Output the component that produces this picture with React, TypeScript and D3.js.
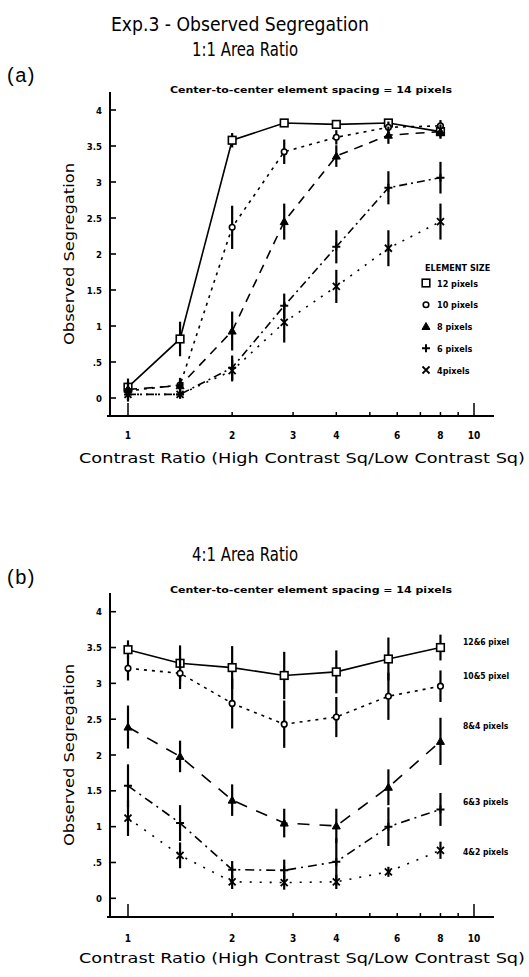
import React from "react";
import * as d3 from "d3";

// x positions of the contrast ratios
const contrastRatios = [1, 1.414, 2, 2.828, 4, 5.657, 8];
const xTickValues = [1, 2, 3, 4, 5, 6, 7, 8, 9, 10];
const xTickLabels = ["1", "2", "3", "4", "", "6", "", "8", "", "10"];
const yTickValues = [0, 0.5, 1, 1.5, 2, 2.5, 3, 3.5, 4];
const yTickLabels = ["0", ".5", "1", "1.5", "2", "2.5", "3", "3.5", "4"];

// Panel (a): 1:1 area ratio
const seriesNamesA = ["12 pixels", "10 pixels", "8 pixels", "6 pixels", "4pixels"];
const a12 = [0.15, 0.82, 3.58, 3.82, 3.8, 3.82, 3.7];
const a12err = [0.12, 0.24, 0.1, 0.03, 0.03, 0.05, 0.08];
const a10 = [0.1, 0.18, 2.37, 3.42, 3.62, 3.76, 3.78];
const a10err = [0.1, 0.1, 0.3, 0.17, 0.1, 0.08, 0.08];
const a8 = [0.12, 0.17, 0.93, 2.45, 3.36, 3.65, 3.7];
const a8err = [0.1, 0.1, 0.27, 0.25, 0.15, 0.12, 0.1];
const a6 = [0.05, 0.05, 0.42, 1.28, 2.1, 2.92, 3.06];
const a6err = [0.1, 0.06, 0.17, 0.17, 0.23, 0.23, 0.22];
const a4 = [0.05, 0.05, 0.38, 1.05, 1.55, 2.08, 2.45];
const a4err = [0.08, 0.05, 0.15, 0.28, 0.23, 0.25, 0.25];

// Panel (b): 4:1 area ratio
const seriesNamesB = ["12&6 pixel", "10&5 pixel", "8&4 pixels", "6&3 pixels", "4&2 pixels"];
const b12 = [3.47, 3.28, 3.22, 3.11, 3.16, 3.34, 3.5];
const b12err = [0.13, 0.25, 0.3, 0.33, 0.3, 0.3, 0.18];
const b10 = [3.21, 3.14, 2.72, 2.43, 2.53, 2.82, 2.96];
const b10err = [0.17, 0.22, 0.35, 0.33, 0.28, 0.33, 0.22];
const b8 = [2.39, 1.98, 1.37, 1.05, 1.01, 1.55, 2.19];
const b8err = [0.3, 0.22, 0.22, 0.2, 0.24, 0.25, 0.33];
const b6 = [1.57, 1.05, 0.4, 0.39, 0.51, 1.0, 1.24];
const b6err = [0.3, 0.25, 0.12, 0.15, 0.33, 0.27, 0.23];
const b4 = [1.12, 0.6, 0.23, 0.22, 0.23, 0.37, 0.67];
const b4err = [0.25, 0.18, 0.1, 0.1, 0.1, 0.07, 0.12];

const markers = ["square", "circle", "triangle", "plus", "cross"];
const dashesA = ["", "3,5", "9,7", "8,4,2,4", "2,7"];
const dashesB = ["", "3,5", "12,10", "9,5,2,5", "2,8"];

const TITLE_FONT = "'DejaVu Sans', sans-serif";
const SMALL_FONT = "'DejaVu Sans Condensed', 'DejaVu Sans', sans-serif";

function Marker({ type, x, y }: { type: string; x: number; y: number }) {
  const s = 3.8;
  if (type === "square")
    return <rect x={x - s} y={y - s} width={2 * s} height={2 * s} fill="white" stroke="black" strokeWidth={1.6} />;
  if (type === "circle") return <circle cx={x} cy={y} r={2.8} fill="white" stroke="black" strokeWidth={1.6} />;
  if (type === "triangle")
    return (
      <path d={`M${x},${y - 4}L${x + 4},${y + 3}L${x - 4},${y + 3}Z`} fill="black" stroke="black" strokeWidth={1} />
    );
  if (type === "plus")
    return <path d={`M${x - 4},${y}H${x + 4}M${x},${y - 4}V${y + 4}`} stroke="black" strokeWidth={2} />;
  return <path d={`M${x - 3.5},${y - 3.5}L${x + 3.5},${y + 3.5}M${x + 3.5},${y - 3.5}L${x - 3.5},${y + 3.5}`} stroke="black" strokeWidth={1.8} />;
}

type PanelProps = {
  y0: number; // pixel of value 0
  y4: number; // pixel of value 4
  axisY: number;
  axisTop: number;
  series: number[][];
  errs: number[][];
  dashes: string[];
  spacingText: string;
  spacingY: number;
  tickLabelY: number;
  xTitleY: number;
  yTitleX: number;
};

function Panel(p: PanelProps) {
  const x = d3.scaleLog().domain([1, 10]).range([128, 474]);
  const y = d3.scaleLinear().domain([0, 4]).range([p.y0, p.y4]);
  const line = d3
    .line<number>()
    .x((_, i) => x(contrastRatios[i]))
    .y((d) => y(d));
  const axisX = 110;
  return (
    <g>
      {/* y axis */}
      <line x1={axisX} x2={axisX} y1={p.axisTop} y2={p.axisY} stroke="black" strokeWidth={2} />
      {yTickValues.map((v, i) => (
        <g key={"yt" + i}>
          <line x1={axisX} x2={axisX + 6} y1={y(v)} y2={y(v)} stroke="black" strokeWidth={1.6} />
          <text x={102} y={y(v) + 3.5} textAnchor="end" fontFamily={SMALL_FONT} fontWeight="bold" fontSize={9.5}>
            {yTickLabels[i]}
          </text>
        </g>
      ))}
      {/* x axis */}
      <line x1={107} x2={494} y1={p.axisY} y2={p.axisY} stroke="black" strokeWidth={1.8} />
      {xTickValues.map((v, i) => {
        const major = v === 1 || v === 10;
        return (
          <g key={"xt" + i}>
            <line x1={x(v)} x2={x(v)} y1={p.axisY} y2={p.axisY - (major ? 13 : 4)} stroke="black" strokeWidth={1.5} />
            {xTickLabels[i] && (
              <text x={x(v)} y={p.tickLabelY} textAnchor="middle" fontFamily={SMALL_FONT} fontWeight="bold" fontSize={10}>
                {xTickLabels[i]}
              </text>
            )}
          </g>
        );
      })}
      <text
        x={302}
        y={p.xTitleY}
        textAnchor="middle"
        fontFamily={TITLE_FONT}
        fontSize={14}
        textLength={446}
        lengthAdjust="spacingAndGlyphs"
      >
        Contrast Ratio (High Contrast Sq/Low Contrast Sq)
      </text>
      <text
        transform={`translate(${p.yTitleX},${(p.y0 + p.y4) / 2}) rotate(-90)`}
        textAnchor="middle"
        fontFamily={TITLE_FONT}
        fontSize={14}
        textLength={182}
        lengthAdjust="spacingAndGlyphs"
      >
        Observed Segregation
      </text>
      <text
        x={311}
        y={p.spacingY}
        textAnchor="middle"
        fontFamily={SMALL_FONT}
        fontWeight="bold"
        fontSize={8}
        textLength={282}
        lengthAdjust="spacingAndGlyphs"
      >
        {p.spacingText}
      </text>
      {/* series */}
      {p.series.map((s, si) => (
        <g key={"s" + si}>
          <path d={line(s) || ""} fill="none" stroke="black" strokeWidth={1.6} strokeDasharray={p.dashes[si]} />
          {s.map((v, i) => (
            <line
              key={"e" + i}
              x1={x(contrastRatios[i])}
              x2={x(contrastRatios[i])}
              y1={y(v - p.errs[si][i])}
              y2={y(v + p.errs[si][i])}
              stroke="black"
              strokeWidth={2.2}
            />
          ))}
          {s.map((v, i) => (
            <Marker key={"m" + i} type={markers[si]} x={x(contrastRatios[i])} y={y(v)} />
          ))}
        </g>
      ))}
    </g>
  );
}

export default function App() {
  const seriesA = [a12, a10, a8, a6, a4];
  const errsA = [a12err, a10err, a8err, a6err, a4err];
  const seriesB = [b12, b10, b8, b6, b4];
  const errsB = [b12err, b10err, b8err, b6err, b4err];
  const legendY = d3.scaleLinear().domain([0, 4]).range([283, 370]);
  const yB = d3.scaleLinear().domain([0, 4]).range([898.3, 611.7]);
  const labelBValues = [3.58, 3.1, 2.4, 1.35, 0.65];
  return (
    <svg width={529} height={977} style={{ position: "absolute", left: 0, top: 0, background: "white" }}>
      <rect width={529} height={977} fill="white" />
      <text x={240} y={31} textAnchor="middle" fontFamily={TITLE_FONT} fontSize={19} textLength={258} lengthAdjust="spacingAndGlyphs">
        Exp.3 - Observed Segregation
      </text>
      <text x={245} y={56} textAnchor="middle" fontFamily={TITLE_FONT} fontSize={19} textLength={106} lengthAdjust="spacingAndGlyphs">
        1:1 Area Ratio
      </text>
      <text x={7} y={82} fontFamily="'Liberation Sans', sans-serif" fontSize={20} letterSpacing={1.5}>
        (a)
      </text>
      <Panel
        y0={398}
        y4={110}
        axisY={416}
        axisTop={92}
        series={seriesA}
        errs={errsA}
        dashes={dashesA}
        spacingText="Center-to-center element spacing = 14 pixels"
        spacingY={93}
        tickLabelY={439}
        xTitleY={463}
        yTitleX={74}
      />
      {/* legend (a) */}
      <text x={425} y={271} fontFamily={SMALL_FONT} fontWeight="bold" fontSize={9}>
        ELEMENT SIZE
      </text>
      {seriesNamesA.map((n, i) => (
        <g key={"lg" + i}>
          <Marker type={markers[i]} x={426} y={legendY(i)} />
          <text x={437} y={legendY(i) + 3.5} fontFamily={SMALL_FONT} fontWeight="bold" fontSize={9}>
            {n}
          </text>
        </g>
      ))}
      <text x={245} y={561} textAnchor="middle" fontFamily={TITLE_FONT} fontSize={19} textLength={106} lengthAdjust="spacingAndGlyphs">
        4:1 Area Ratio
      </text>
      <text x={7} y={584} fontFamily="'Liberation Sans', sans-serif" fontSize={20} letterSpacing={1.5}>
        (b)
      </text>
      <Panel
        y0={898.3}
        y4={611.7}
        axisY={917}
        axisTop={593}
        series={seriesB}
        errs={errsB}
        dashes={dashesB}
        spacingText="Center-to-center element spacing = 14 pixels"
        spacingY={593}
        tickLabelY={942}
        xTitleY={963}
        yTitleX={74}
      />
      {seriesNamesB.map((n, i) => (
        <text key={"lb" + i} x={463} y={yB(labelBValues[i]) + 3} fontFamily={SMALL_FONT} fontWeight="bold" fontSize={8.5}>
          {n}
        </text>
      ))}
    </svg>
  );
}
